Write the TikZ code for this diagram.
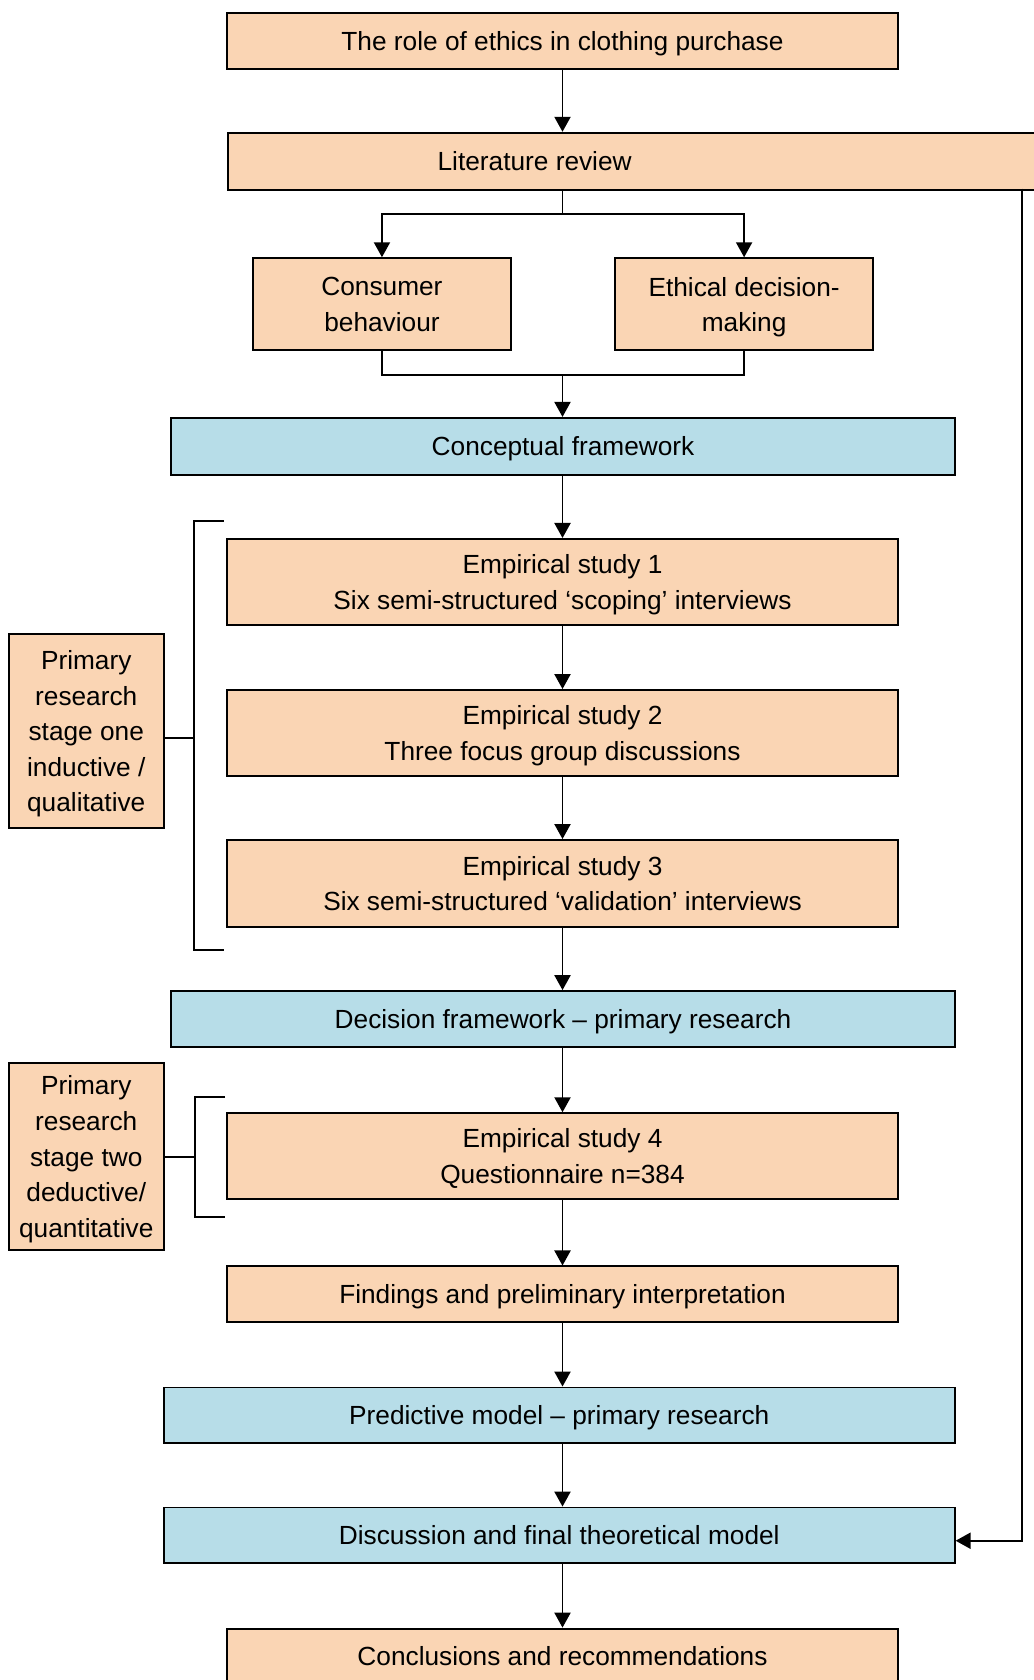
\documentclass[tikz,border=0pt]{standalone}
\usepackage{fontspec}
\setmainfont{Liberation Sans}
\usetikzlibrary{arrows.meta}
\definecolor{peach}{RGB}{250,213,180}
\definecolor{paleblue}{RGB}{183,221,232}
\begin{document}
\begin{tikzpicture}[x=0.5pt,y=-0.5pt,
  font=\fontsize{12.25pt}{16.6pt}\selectfont,
  box/.style={draw=black, line width=0.9pt, align=center, inner sep=0pt, text depth=0pt},
  pbox/.style={box, fill=peach},
  bbox/.style={box, fill=paleblue},
  wide/.style={minimum width=313pt},
  arr/.style={line width=0.9pt, -{Triangle[length=7pt,width=7.5pt]}},
  ln/.style={line width=0.9pt}]
\useasboundingbox (0,0) rectangle (965,1568);
\clip (0,0) rectangle (965,1568);

% main column
\node[pbox, wide, minimum height=26pt] (top) at (525,38) {The role of ethics in clothing purchase};
\node[pbox, minimum width=384pt, minimum height=26.5pt, anchor=north west] (lit) at (212,123) {};
\node (littext) at (499,150) {Literature review};
\node[pbox, minimum width=120.5pt, minimum height=43pt] (cb) at (356.5,284) {Consumer\\behaviour};
\node[pbox, minimum width=120.5pt, minimum height=43pt] (ed) at (694.5,284) {Ethical decision-\\making};
\node[bbox, minimum width=365.5pt, minimum height=26.5pt] (cf) at (525.5,416.5) {Conceptual framework};
\node[pbox, wide, minimum height=40pt] (es1) at (525,543) {Empirical study 1\\Six semi-structured ‘scoping’ interviews};
\node[pbox, wide, minimum height=40pt] (es2) at (525,684) {Empirical study 2\\Three focus group discussions};
\node[pbox, wide, minimum height=40.5pt] (es3) at (525,824.5) {Empirical study 3\\Six semi-structured ‘validation’ interviews};
\node[bbox, minimum width=365.5pt, minimum height=26pt] (df) at (525.5,951) {Decision framework – primary research};
\node[pbox, wide, minimum height=40pt] (es4) at (525,1079) {Empirical study 4\\Questionnaire n=384};
\node[pbox, wide, minimum height=26pt] (fi) at (525,1208) {Findings and preliminary interpretation};
\node[bbox, minimum width=369pt, minimum height=26pt] (pm) at (522,1321) {Predictive model – primary research};
\node[bbox, minimum width=369pt, minimum height=26pt] (disc) at (522,1433) {Discussion and final theoretical model};
\node[pbox, wide, minimum height=26pt] (conc) at (525,1546) {Conclusions and recommendations};

% stage labels
\node[pbox, minimum width=72.5pt, minimum height=90.5pt] (s1) at (80.5,682.5) {Primary\\research\\stage one\\inductive /\\qualitative};
\node[pbox, minimum width=72.5pt, minimum height=87.5pt] (s2) at (80.5,1079.5) {Primary\\research\\stage two\\deductive/\\quantitative};

% flow
\draw[arr] (top.south) -- (top.south |- lit.north);
\coordinate (split) at (525,200);
\draw[ln] (split |- lit.south) -- (split);
\draw[arr] (split) -| (cb.north);
\draw[arr] (split) -| (ed.north);
\coordinate (join) at (525,350);
\draw[ln] (cb.south) |- (join) -| (ed.south);
\draw[arr] (join) -- (join |- cf.north);
\draw[arr] (es1.north |- cf.south) -- (es1.north);
\draw[arr] (es1.south) -- (es2.north);
\draw[arr] (es2.south) -- (es3.north);
\draw[arr] (es3.south) -- (es3.south |- df.north);
\draw[arr] (es4.north |- df.south) -- (es4.north);
\draw[arr] (es4.south) -- (fi.north);
\draw[arr] (fi.south) -- (fi.south |- pm.north);
\draw[arr] (fi.south |- pm.south) -- (fi.south |- disc.north);
\draw[arr] (fi.south |- disc.south) -- (conc.north);

% feedback from literature review
\coordinate (fb) at (954,176);
\draw[arr] (fb) |- ([yshift=-2.5pt]disc.east);

% brackets
\coordinate (b1) at (181,689);
\draw[ln] (209,486) -- (181,486) -- (181,887) -- (209,887);
\draw[ln] (s1.east |- b1) -- (b1);
\coordinate (b2) at (182,1080);
\draw[ln] (210,1024) -- (182,1024) -- (182,1136) -- (210,1136);
\draw[ln] (s2.east |- b2) -- (b2);
\end{tikzpicture}
\end{document}
